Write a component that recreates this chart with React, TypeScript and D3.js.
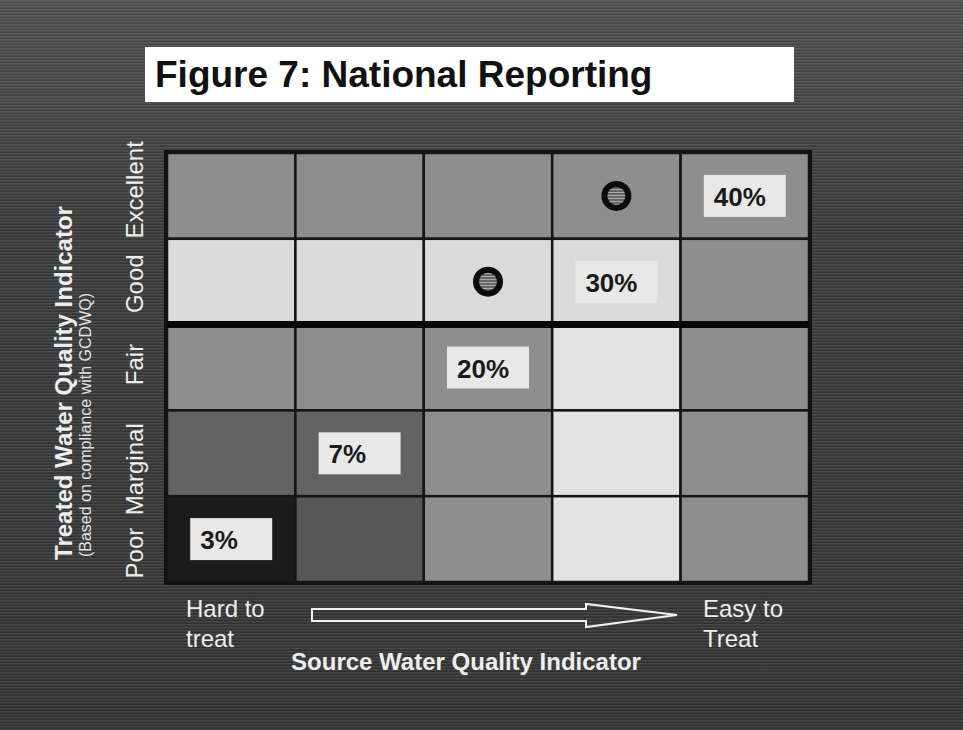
import React from "react";
import * as d3 from "d3";

// ---- data ----
const sourceCategories = ["S1", "S2", "S3", "S4", "S5"]; // hard to treat -> easy to treat
const treatedCategories = ["Excellent", "Good", "Fair", "Marginal", "Poor"];
// shade level per cell (rows = treatedCategories, cols = sourceCategories)
const cellLevels = [
  [3, 3, 3, 3, 3],
  [4, 4, 4, 4, 3],
  [3, 3, 3, 5, 3],
  [2, 2, 3, 5, 3],
  [0, 1, 3, 5, 3],
];
const pctLabels = ["40%", "30%", "20%", "7%", "3%"];
const pctCols = ["S5", "S4", "S3", "S2", "S1"];
const pctRows = ["Excellent", "Good", "Fair", "Marginal", "Poor"];
const dotCols = ["S4", "S3"];
const dotRows = ["Excellent", "Good"];

const title = "Figure 7: National Reporting";
const yTitle = "Treated Water Quality Indicator";
const ySubtitle = "(Based on compliance with GCDWQ)";
const xTitle = "Source Water Quality Indicator";
const xLeftLabel = ["Hard to", "treat"];
const xRightLabel = ["Easy to", "Treat"];

const FONT = "'Liberation Sans', Arial, sans-serif";

export default function App() {
  const W = 963;
  const H = 730;
  const x = d3.scaleBand<string>().domain(sourceCategories).range([167, 809]);
  const y = d3.scaleBand<string>().domain(treatedCategories).range([153, 582]);
  const shade = d3
    .scaleOrdinal<number, string>()
    .domain([0, 1, 2, 3, 4, 5])
    .range(["#1c1c1c", "#575757", "#636363", "#8e8e8e", "#dadada", "#e3e3e3"]);

  const bw = x.bandwidth();
  const bh = y.bandwidth();
  // small manual nudges of the row labels, as placed in the original slide
  const rowLabelShift = [-6, 2, -3, 16, 14];

  const arrowPath = (() => {
    const p = d3.path();
    const x0 = 312, x1 = 586, xt = 677, yc = 615;
    p.moveTo(x0, yc - 6);
    p.lineTo(x1, yc - 6);
    p.lineTo(x1, yc - 11);
    p.lineTo(xt, yc);
    p.lineTo(x1, yc + 12);
    p.lineTo(x1, yc + 6);
    p.lineTo(x0, yc + 6);
    p.closePath();
    return p.toString();
  })();

  return (
    <svg
      width={W}
      height={H}
      style={{ position: "absolute", left: 0, top: 0, display: "block" }}
      fontFamily={FONT}
    >
      <defs>
        <linearGradient id="bg" x1="0" y1="0" x2="0" y2="1">
          <stop offset="0" stopColor="#545454" />
          <stop offset="0.3" stopColor="#404040" />
          <stop offset="1" stopColor="#383838" />
        </linearGradient>
        <pattern id="scan" width="4" height="3" patternUnits="userSpaceOnUse">
          <rect width="4" height="1" fill="rgba(255,255,255,0.07)" />
          <rect y="2" width="4" height="1" fill="rgba(0,0,0,0.14)" />
        </pattern>
        <pattern id="dotfill" width="4" height="3" patternUnits="userSpaceOnUse">
          <rect width="4" height="3" fill="#666" />
          <rect width="4" height="1" fill="#aaa" />
        </pattern>
      </defs>
      <rect width={W} height={H} fill="url(#bg)" />
      <rect width={W} height={H} fill="url(#scan)" />

      {/* title */}
      <rect x={145} y={47} width={649} height={55} fill="#ffffff" />
      <text x={155} y={87} fontSize={37} fontWeight="bold" fill="#111">
        {title}
      </text>

      {/* grid background / border */}
      <rect x={164} y={150} width={648} height={435} fill="#111" />

      {/* cells */}
      {treatedCategories.map((r, i) =>
        sourceCategories.map((c, j) => (
          <rect
            key={r + c}
            x={x(c)!}
            y={y(r)!}
            width={bw}
            height={bh}
            fill={shade(cellLevels[i][j])}
            stroke="#151515"
            strokeWidth={2.5}
          />
        ))
      )}
      {/* thick separator between Good and Fair */}
      <line
        x1={167}
        x2={809}
        y1={y("Fair")!}
        y2={y("Fair")!}
        stroke="#080808"
        strokeWidth={7}
      />

      {/* percentage labels */}
      {pctLabels.map((lab, k) => {
        const cx = x(pctCols[k])! + bw / 2;
        const cy = y(pctRows[k])! + bh / 2;
        return (
          <g key={lab}>
            <rect x={cx - 41} y={cy - 21} width={82} height={42} fill="#e8e8e8" />
            <text x={cx - 31} y={cy + 10} fontSize={26} fontWeight="bold" fill="#1a1a1a">
              {lab}
            </text>
          </g>
        );
      })}

      {/* dots */}
      {dotCols.map((c, k) => {
        const cx = x(c)! + bw / 2;
        const cy = y(dotRows[k])! + bh / 2;
        return (
          <g key={c}>
            <circle cx={cx} cy={cy} r={15} fill="#0c0c0c" />
            <circle cx={cx} cy={cy} r={9} fill="url(#dotfill)" />
          </g>
        );
      })}

      {/* y axis titles */}
      <text
        transform="translate(72,383) rotate(-90)"
        textAnchor="middle"
        fontSize={24}
        fontWeight="bold"
        fill="#eeeeee"
      >
        {yTitle}
      </text>
      <text
        transform="translate(91,425) rotate(-90)"
        textAnchor="middle"
        fontSize={16}
        fill="#e2e2e2"
      >
        {ySubtitle}
      </text>
      {treatedCategories.map((r, i) => (
        <text
          key={r}
          transform={`translate(143,${y(r)! + bh / 2 + rowLabelShift[i]}) rotate(-90)`}
          textAnchor="middle"
          fontSize={24}
          fill="#eeeeee"
        >
          {r}
        </text>
      ))}

      {/* x axis */}
      {xLeftLabel.map((t, i) => (
        <text key={t} x={186} y={617 + i * 30} fontSize={24} fill="#eeeeee">
          {t}
        </text>
      ))}
      {xRightLabel.map((t, i) => (
        <text key={t} x={703} y={617 + i * 30} fontSize={24} fill="#eeeeee">
          {t}
        </text>
      ))}
      <path d={arrowPath} fill="none" stroke="#f2f2f2" strokeWidth={2} />
      <text x={466} y={670} textAnchor="middle" fontSize={24} fontWeight="bold" fill="#eeeeee">
        {xTitle}
      </text>
    </svg>
  );
}
